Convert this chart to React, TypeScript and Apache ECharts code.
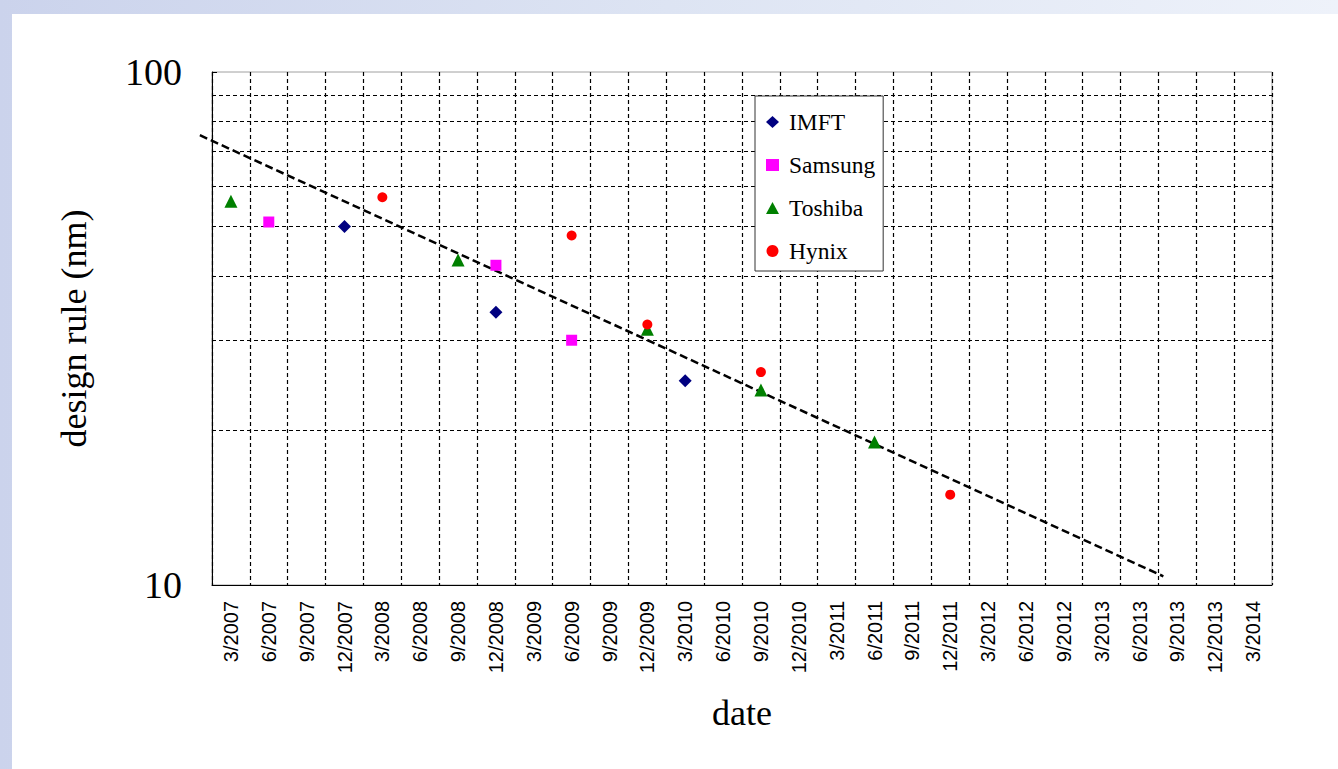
import React, { useEffect, useRef } from "react";
import * as echarts from "echarts";

const quarters = [
  "3/2007", "6/2007", "9/2007", "12/2007",
  "3/2008", "6/2008", "9/2008", "12/2008",
  "3/2009", "6/2009", "9/2009", "12/2009",
  "3/2010", "6/2010", "9/2010", "12/2010",
  "3/2011", "6/2011", "9/2011", "12/2011",
  "3/2012", "6/2012", "9/2012",
  "3/2013", "6/2013", "9/2013", "12/2013",
  "3/2014",
];

const imft: [string, number][] = [["12/2007", 50], ["12/2008", 34], ["3/2010", 25]];
const samsung: [string, number][] = [["6/2007", 51], ["12/2008", 42], ["6/2009", 30]];
const toshiba: [string, number][] = [["3/2007", 56], ["9/2008", 43], ["12/2009", 31.5], ["9/2010", 24], ["6/2011", 19]];
const hynix: [string, number][] = [["3/2008", 57], ["6/2009", 48], ["12/2009", 32.2], ["9/2010", 26], ["12/2011", 15]];

// trend line end points, as (quarter index, nm)
const trend: [number, number][] = [[-0.82, 75.3], [24.63, 10.4]];

const gridValues = [20, 30, 40, 50, 60, 70, 80, 90];

export default function App() {
  const ref = useRef<HTMLDivElement>(null);
  useEffect(() => {
    const chart = echarts.init(ref.current!, null, { renderer: "svg" });
    const serif = '"Liberation Serif", "DejaVu Serif", serif';
    const sans = '"Liberation Sans Narrow", "Liberation Sans", sans-serif';
    const plotLeft = 212;
    const plotWidth = 1060;
    const unit = plotWidth / quarters.length;
    const trendMin = trend[0][0];
    const extraLeft = (-0.5 - trendMin) * unit;
    chart.setOption({
      animation: false,
      backgroundColor: "transparent",
      grid: [
        {
          left: plotLeft, top: 72, width: plotWidth, height: 513,
          show: true, borderColor: "#a0a0a0", borderWidth: 1, backgroundColor: "transparent",
        },
        {
          left: plotLeft - extraLeft, top: 72, width: plotWidth + extraLeft, height: 513,
        },
      ],
      legend: {
        orient: "vertical",
        left: 755,
        top: 96,
        z: 20,
        padding: [14, 8, 8, 11],
        itemGap: 19,
        itemWidth: 13,
        itemHeight: 12,
        borderColor: "#333",
        borderWidth: 1,
        backgroundColor: "#fff",
        textStyle: { fontFamily: serif, fontSize: 23.5, color: "#000", padding: [0, 0, 0, 5] },
        data: [
          { name: "IMFT", icon: "diamond" },
          { name: "Samsung", icon: "rect" },
          { name: "Toshiba", icon: "triangle" },
          { name: "Hynix", icon: "circle" },
        ],
      },
      xAxis: [
        {
          type: "category",
          gridIndex: 0,
          data: quarters,
          boundaryGap: true,
          name: "date",
          nameLocation: "middle",
          nameGap: 110,
          nameTextStyle: { fontFamily: serif, fontSize: 36, color: "#000" },
          axisLine: { lineStyle: { color: "#000", width: 1 } },
          axisTick: { inside: true, length: 5, interval: 0, lineStyle: { color: "#000" } },
          axisLabel: { interval: 0, rotate: 90, margin: 16, fontFamily: sans, fontSize: 20, color: "#000" },
          splitLine: { show: true, interval: 0, lineStyle: { color: "#000", type: [4, 3], width: 1.2 } },
        },
        { type: "value", gridIndex: 1, min: trendMin, max: quarters.length - 0.5, show: false },
      ],
      yAxis: [
        {
          type: "log",
          gridIndex: 0,
          logBase: 10,
          min: 10,
          max: 100,
          name: "design rule (nm)",
          nameLocation: "middle",
          nameGap: 120,
          nameTextStyle: { fontFamily: serif, fontSize: 36, color: "#000" },
          axisLine: { show: true, onZero: false, lineStyle: { color: "#000", width: 1 } },
          axisTick: { show: true, inside: true, length: 5, lineStyle: { color: "#000" } },
          axisLabel: { margin: 30, fontFamily: serif, fontSize: 38, color: "#000" },
          splitLine: { show: false },
        },
        { type: "log", gridIndex: 1, logBase: 10, min: 10, max: 100, show: false },
      ],
      series: [
        {
          type: "scatter",
          xAxisIndex: 0,
          yAxisIndex: 0,
          data: [],
          silent: true,
          markLine: {
            silent: true,
            symbol: "none",
            label: { show: false },
            lineStyle: { color: "#000", type: [4, 3], width: 1.2 },
            data: gridValues.map((v) => ({ yAxis: v })),
          },
        },
        {
          type: "line",
          xAxisIndex: 1,
          yAxisIndex: 1,
          data: trend,
          clip: false,
          symbol: "none",
          silent: true,
          z: 3,
          lineStyle: { color: "#000", width: 2.5, type: [8, 4] },
        },
        { name: "IMFT", type: "scatter", data: imft, symbol: "diamond", symbolSize: 13, itemStyle: { color: "#000080", opacity: 1 }, z: 5 },
        { name: "Samsung", type: "scatter", data: samsung, symbol: "rect", symbolSize: 11, itemStyle: { color: "#ff00ff", opacity: 1 }, z: 5 },
        { name: "Toshiba", type: "scatter", data: toshiba, symbol: "triangle", symbolSize: 13, itemStyle: { color: "#008000", opacity: 1 }, z: 5 },
        { name: "Hynix", type: "scatter", data: hynix, symbol: "circle", symbolSize: 10, itemStyle: { color: "#ff0000", opacity: 1 }, z: 5 },
      ],
    });
    return () => chart.dispose();
  }, []);

  return (
    <div
      style={{
        position: "fixed", left: 0, top: 0, width: 1338, height: 769,
        background: "linear-gradient(90deg, #cbd3ec 0%, #dde4f3 50%, #eef2fa 100%)",
      }}
    >
      <div style={{ position: "absolute", left: 12, top: 14, right: 0, bottom: 0, background: "#fff" }} />
      <div ref={ref} style={{ position: "absolute", left: 0, top: 0, width: 1338, height: 769 }} />
    </div>
  );
}
